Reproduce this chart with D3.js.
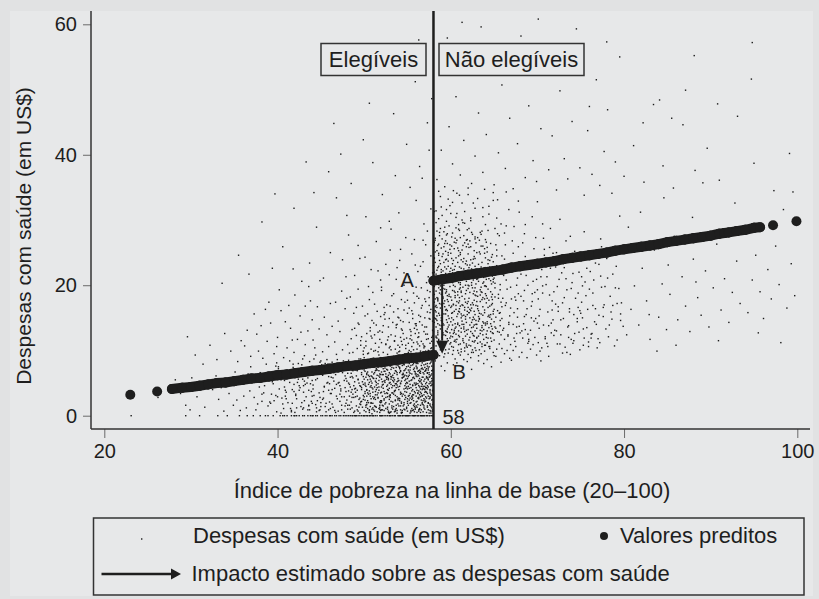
<!DOCTYPE html>
<html>
<head>
<meta charset="utf-8">
<script src="https://cdn.jsdelivr.net/npm/d3@7/dist/d3.min.js"></script>
<style>
  html, body { margin: 0; padding: 0; background: #e1e2e3; }
  svg { display: block; }
  text { font-family: "Liberation Sans", Arial, Helvetica, sans-serif; fill: #1e1e1e; }
</style>
</head>
<body>
<svg id="chart" width="819" height="599"></svg>
<script>
// ---- Axis ticks ----
const xTicks = [20, 40, 60, 80, 100];
const yTicks = [0, 20, 40, 60];
const cutoff = 58;

// ---- Predicted values (regression discontinuity fit) ----
const predEligibleX = [23.0, 26.1, 27.8, 29, 30, 31, 32, 33, 34, 35, 36, 37, 38, 39, 40, 41, 42, 43, 44, 45, 46, 47, 48, 49, 50, 51, 52, 53, 54, 55, 56, 57, 58];
const predEligibleY = [3.2, 3.7, 4.1, 4.3, 4.4, 4.6, 4.8, 5.0, 5.1, 5.3, 5.5, 5.7, 5.8, 6.0, 6.2, 6.3, 6.5, 6.7, 6.9, 7.0, 7.2, 7.4, 7.6, 7.7, 7.9, 8.1, 8.2, 8.4, 8.6, 8.8, 8.9, 9.1, 9.3];
const predIneligibleX = [58, 59, 60, 61, 62, 63, 64, 65, 66, 67, 68, 69, 70, 71, 72, 73, 74, 75, 76, 77, 78, 79, 80, 81, 82, 83, 84, 85, 86, 87, 88, 89, 90, 91, 91.6, 92.1, 93, 94, 95, 95.7, 97.2, 99.9];
const predIneligibleY = [20.7, 20.9, 21.1, 21.4, 21.6, 21.8, 22.0, 22.2, 22.4, 22.7, 22.9, 23.1, 23.3, 23.5, 23.7, 24.0, 24.2, 24.4, 24.6, 24.8, 25.0, 25.3, 25.5, 25.7, 25.9, 26.1, 26.3, 26.6, 26.8, 27.0, 27.2, 27.4, 27.6, 27.9, 28.0, 28.1, 28.3, 28.5, 28.8, 28.9, 29.2, 29.8];

// ---- Estimated impact (A -> B) ----
const impactX = 59;
const impactFrom = 20.6;
const impactTo = 9.5;

// ---- Observed health spending: households reporting zero spending ----
const zeroSpendX = [23.1, 29.4, 31.0, 33.1, 34.2, 35.6, 36.5, 37.2, 38.0, 38.6, 38.9, 39.5, 40.3, 40.6, 40.8, 41.1, 41.6, 41.9, 42.0, 42.2, 42.5, 42.9, 43.1, 43.5, 43.8, 44.0, 44.1, 44.4, 44.6, 45.0, 45.2, 45.5, 45.7, 46.0, 46.1, 46.3, 46.6, 46.8, 47.1, 47.3, 47.6, 47.8, 48.0, 48.2, 48.4, 48.6, 48.7, 48.9, 49.0, 49.1, 49.3, 49.5, 49.7, 49.9, 50.0, 50.1, 50.3, 50.4, 50.6, 50.7, 50.9, 51.0, 51.1, 51.3, 51.5, 51.8, 51.9, 52.0, 52.1, 52.3, 52.5, 52.7, 52.9, 53.0, 53.1, 53.3, 53.5, 53.6, 53.9, 54.0, 54.1, 54.2, 54.4, 54.5, 54.7, 54.8, 54.9, 55.0, 55.1, 55.2, 55.4, 55.6, 55.7, 55.8, 55.9, 56.1, 56.2, 56.3, 56.5, 56.6, 56.7, 56.8, 56.9, 57.0, 57.2, 57.3, 57.5, 57.6, 57.8, 57.9];

// ---- Observed health spending, eligible households (index < 58) ----
const eligibleSpending = [
[26.2,2.8],
[44.2,3.1],[44.7,6.4],[44.5,1.2],[44.9,8.2],[44.1,4.7],[44.6,2.3],[44.3,7.1],[44.8,0.8],[44.4,5.5],[44.0,1.9],
[45.3,2.7],[45.8,5.1],[45.1,7.8],[45.6,0.6],[45.9,3.9],[45.2,6.2],[45.5,1.4],[45.7,8.6],[45.4,4.4],[45.0,2.0],[45.8,6.9],
[46.1,1.1],[46.6,4.2],[46.3,7.4],[46.9,2.6],[46.4,5.8],[46.7,0.5],[46.2,3.4],[46.8,8.0],[46.5,6.6],[46.0,4.9],[46.3,1.8],[46.9,7.0],
[47.2,2.2],[47.7,5.4],[47.4,0.9],[47.9,3.7],[47.1,6.8],[47.6,8.4],[47.3,4.1],[47.8,1.5],[47.5,7.6],[47.0,5.0],[47.4,2.9],[47.8,6.1],[47.2,3.3],
[48.3,1.6],[48.8,4.6],[48.1,7.3],[48.6,2.8],[48.4,5.9],[48.9,0.7],[48.2,3.8],[48.7,8.3],[48.5,6.5],[48.0,2.4],[48.6,4.0],[48.3,7.9],[48.9,5.2],[48.1,1.0],
[49.2,3.0],[49.7,6.3],[49.4,1.3],[49.9,4.8],[49.1,8.1],[49.6,2.1],[49.3,5.6],[49.8,7.2],[49.5,0.4],[49.0,3.6],[49.7,4.3],[49.2,6.9],[49.6,1.7],[49.4,8.7],[49.9,2.5],
[50.3,2.0],[50.8,5.3],[50.1,7.7],[50.6,0.8],[50.4,3.5],[50.9,6.7],[50.2,4.5],[50.7,1.4],[50.5,8.5],[50.0,2.9],[50.6,6.0],[50.3,3.9],[50.9,0.3],[50.1,5.0],[50.7,7.4],[50.4,1.1],
[51.2,1.5],[51.7,4.4],[51.4,7.0],[51.9,2.3],[51.1,5.7],[51.6,8.2],[51.3,3.2],[51.8,6.4],[51.5,0.6],[51.0,4.1],[51.6,2.7],[51.2,7.5],[51.8,1.0],[51.4,5.1],[51.9,8.9],[51.3,3.7],[51.7,6.1],
[52.3,2.6],[52.8,5.5],[52.1,0.9],[52.6,7.1],[52.4,3.4],[52.9,1.8],[52.2,6.3],[52.7,4.0],[52.5,8.4],[52.0,2.1],[52.6,5.9],[52.3,7.8],[52.8,0.5],[52.1,4.7],[52.9,3.0],[52.4,6.8],[52.7,1.3],[52.2,8.0],
[53.2,1.2],[53.7,4.9],[53.4,7.3],[53.9,2.4],[53.1,5.6],[53.6,0.7],[53.3,3.5],[53.8,6.6],[53.5,8.6],[53.0,2.8],[53.7,1.6],[53.2,4.3],[53.9,7.7],[53.4,5.2],[53.6,3.1],[53.1,6.0],[53.8,0.4],[53.5,4.6],[53.3,8.1],
[54.2,3.3],[54.7,6.2],[54.4,0.8],[54.9,4.4],[54.1,7.4],[54.6,2.0],[54.3,5.3],[54.8,8.3],[54.5,1.5],[54.0,4.0],[54.7,3.7],[54.2,6.9],[54.9,1.1],[54.4,5.8],[54.6,7.9],[54.1,2.6],[54.8,4.9],[54.3,0.5],[54.5,6.5],[54.0,8.8],
[55.3,1.9],[55.8,5.0],[55.1,7.6],[55.6,3.2],[55.4,0.6],[55.9,6.4],[55.2,4.2],[55.7,8.0],[55.5,2.5],[55.0,5.7],[55.8,1.4],[55.3,7.0],[55.6,4.7],[55.1,3.0],[55.9,8.6],[55.4,5.4],[55.7,0.9],[55.2,6.7],[55.5,3.8],[55.0,2.2],[55.8,7.3],
[56.2,2.7],[56.7,5.9],[56.4,1.0],[56.9,4.1],[56.1,7.2],[56.6,3.4],[56.3,6.1],[56.8,8.4],[56.5,0.5],[56.0,4.8],[56.7,2.0],[56.2,6.8],[56.9,1.5],[56.4,5.2],[56.6,7.7],[56.1,3.9],[56.8,4.5],[56.3,0.9],[56.5,6.5],[56.0,8.0],[56.7,3.1],[56.2,1.7],
[57.3,1.3],[57.8,4.7],[57.1,7.0],[57.6,2.9],[57.4,5.6],[57.9,0.7],[57.2,3.6],[57.7,8.2],[57.5,6.3],[57.0,2.1],[57.8,5.3],[57.3,7.6],[57.6,1.8],[57.1,4.3],[57.9,6.9],[57.4,3.0],[57.7,0.4],[57.2,5.8],[57.5,8.7],[57.0,4.0],[57.8,2.4],[57.3,6.5],[57.6,3.8],
[53.8,2.9],[49.2,7.4],[56.5,4.1],[51.1,0.9],[57.3,6.6],[48.7,3.3],[55.0,8.2],[50.4,5.5],[54.6,1.7],[57.9,3.9],
[50.9,6.0],[56.1,2.2],[48.3,4.8],[53.3,7.9],[57.6,0.8],[52.0,3.6],[55.7,5.9],[49.8,1.3],[54.2,6.8],[51.6,8.6],
[57.0,4.5],[49.5,2.7],[55.3,3.4],[52.8,6.2],[48.9,8.0],[56.8,7.1],[50.2,0.6],[53.6,4.9],[51.9,2.0],[54.9,7.5],
[55.9,1.2],[48.1,6.5],[52.4,5.1],[57.5,2.6],[50.6,3.8],[53.0,0.5],[56.3,5.4],[49.0,4.2],[54.4,3.0],[51.4,7.2],
[57.8,8.4],[50.0,8.9],[55.5,6.4],[52.2,1.5],[48.5,2.1],[56.9,3.2],[53.9,5.7],[51.2,4.4],[54.0,8.1],[49.7,6.6],
[56.6,0.9],[52.6,7.7],[48.0,5.3],[55.2,2.4],[50.8,1.9],[57.2,5.1],[53.5,3.7],[49.3,0.7],[54.7,4.6],[51.7,6.9],
[55.6,7.8],[50.3,4.0],[57.7,1.4],[52.9,2.5],[48.6,7.0],[56.0,6.1],[53.2,8.7],[49.9,3.1],[54.3,0.4],[51.0,5.8],
[57.1,2.9],[50.7,7.5],[55.4,4.3],[52.1,6.3],[48.4,1.0],[56.4,8.3],[53.7,1.1],[49.4,5.0],[54.8,5.6],[51.5,3.2],
[56.2,3.5],[51.8,1.6],[57.4,7.3],[49.1,6.1],[54.1,2.3],[52.7,4.7],[55.8,0.6],[50.5,8.2],[53.1,6.0],[48.8,2.8],
[57.9,5.4],[53.4,3.3],[50.1,2.4],[55.1,7.0],[51.3,5.3],[56.7,1.8],[48.2,8.5],[54.5,6.3],[52.3,0.8],[49.6,4.5],
[56.9,6.4],[52.5,2.0],[54.6,8.8],[50.9,1.0],[57.6,4.0],[49.2,3.9],[55.6,2.7],[53.1,7.1],[51.6,4.9],[48.7,5.8],
[55.3,0.4],[57.1,7.9],[50.4,6.7],[53.8,5.2],[52.0,8.0],[56.0,3.0],[49.5,1.8],[54.2,3.6],[51.1,2.6],[57.4,1.9],
[48.9,4.1],[56.5,6.8],[53.3,2.1],[55.0,5.0],[50.7,3.4],[52.8,3.9],[57.8,6.9],[54.9,1.3],[51.9,7.6],[49.9,8.3],
[56.2,8.0],[53.6,0.9],[57.0,3.6],[50.2,5.9],[55.9,4.7],[52.4,7.3],[48.3,3.0],[54.0,5.4],[51.4,1.3],[56.8,2.3],
[49.7,2.2],[55.4,8.5],[57.5,4.9],[52.6,5.6],[50.0,7.0],[53.5,6.5],[56.3,0.7],[48.6,6.0],[54.4,7.7],[51.2,8.4],
[57.3,3.4],[50.8,4.6],[55.7,1.6],[53.0,3.1],[49.0,7.8],[56.6,5.5],[52.2,4.2],[54.7,2.5],[51.8,0.5],[57.9,7.0],
[48.1,1.6],[55.1,6.0],[53.9,4.4],[50.6,0.9],[56.1,7.4],[52.9,5.0],[57.2,0.5],[49.3,5.5],[54.1,6.6],[51.0,3.6],
[56.4,4.4],[53.2,5.9],[57.7,6.2],[50.1,3.7],[55.5,2.9],[52.3,6.8],[48.8,0.5],[54.8,8.6],[51.5,6.2],[56.9,1.2],
[49.8,5.2],[57.0,8.7],[53.7,7.4],[55.8,3.7],[50.5,2.0],[52.7,1.0],[56.7,4.8],[48.4,4.4],[54.3,1.9],[51.7,5.4],
[57.6,2.7],[50.3,6.3],[55.2,5.3],[53.4,8.3],[49.1,1.5],[56.5,2.9],[52.1,3.0],[54.6,4.1],[51.3,7.9],[57.3,5.8],
[55.0,1.9],[52.5,6.0],[49.6,8.7],[57.8,3.1],[50.9,4.3],[53.6,2.4],[56.2,6.3],[48.5,3.6],[54.9,6.1],[51.2,0.7],
[56.0,5.0],[53.0,7.6],[57.4,0.9],[50.2,1.3],[55.6,4.0],[52.8,8.5],[49.4,2.5],[54.2,4.9],[51.9,3.5],[57.1,6.9],
[48.7,6.9],[56.8,4.2],[53.3,4.6],[55.4,0.8],[50.6,5.1],[52.0,2.3],[57.9,1.7],[54.5,3.3],[49.9,6.0],[51.6,2.8],
[57.2,4.3],[54.0,1.5],[50.4,7.8],[55.9,6.7],[53.8,6.3],[52.4,1.8],[56.3,3.8],[48.2,5.0],[51.1,6.4],[49.5,4.6],
[56.6,7.2],[53.1,0.6],[57.5,5.9],[50.8,2.6],[55.3,7.4],[52.6,3.5],[54.7,7.0],[49.0,2.9],[51.4,4.7],[57.0,1.0],
[55.7,3.2],[50.0,0.8],[53.5,5.5],[56.1,0.5],[52.2,7.2],[57.7,4.6],[48.9,7.3],[54.4,5.8],[51.8,8.2],[56.4,6.6],
[53.9,1.8],[57.3,8.0],[50.7,5.6],[55.1,4.5],[52.9,0.4],[56.9,5.3],[49.2,0.9],[54.1,7.2],[51.0,1.9],[57.6,6.0],
[55.8,5.7],[52.3,5.3],[57.1,2.2],[50.3,3.0],[53.4,1.4],[56.7,8.1],[48.6,1.2],[54.8,2.8],[51.5,7.0],[56.0,1.5],
[57.8,7.6],[53.7,6.8],[55.5,1.1],[50.1,6.8],[52.7,5.9],[56.5,1.6],[49.7,4.0],[54.2,0.9],[51.3,2.5],[57.4,4.4],
[56.3,2.6],[54.6,6.9],[52.0,5.6],[57.9,0.9],[50.5,4.8],[55.2,8.0],[53.2,3.5],[49.3,8.0],[51.7,1.1],[56.8,5.9],
[54.9,3.6],[51.5,8.1],[56.2,4.9],[50.3,1.7],[57.6,5.2],[53.0,6.4],[55.4,2.0],[52.2,4.8],[57.1,8.5],[50.8,6.1],
[56.8,0.6],[53.6,3.9],[51.0,2.9],[55.7,7.1],[57.9,2.5],[52.7,7.0],[54.2,5.0],[50.5,3.3],[56.4,5.7],[53.3,1.0],
[57.3,4.1],[51.8,5.9],[55.0,0.7],[52.5,2.8],[56.0,7.6],[50.2,7.9],[54.6,6.0],[57.7,3.3],[53.9,8.2],[51.3,1.4],
[55.9,3.5],[52.0,6.7],[57.0,5.6],[50.7,4.4],[54.0,2.7],[56.5,8.6],[53.4,5.8],[51.7,3.9],[55.3,6.5],[57.5,0.4],
[52.9,4.2],[56.1,1.3],[50.0,5.6],[54.4,8.4],[57.8,6.4],[53.1,2.2],[51.2,6.6],[55.6,4.6],[56.9,7.8],[52.3,3.7],
[54.7,0.9],[57.2,7.2],[50.9,8.3],[53.7,4.3],[55.1,8.8],[51.9,0.8],[56.7,3.0],[52.6,8.7],[57.4,2.0],[54.1,4.5],
[50.4,2.3],[55.8,1.8],[53.2,7.4],[56.3,6.9],[51.4,4.0],[57.9,4.8],[52.1,1.6],[54.8,7.2],[56.6,2.4],[50.6,0.5],
[55.2,3.1],[53.5,0.6],[57.0,6.8],[51.6,7.4],[54.3,3.4],[56.0,4.3],[52.8,0.7],[57.6,8.0],[50.1,4.7],[55.5,5.5],
[53.8,4.7],[56.4,1.1],[51.1,8.8],[57.3,1.5],[54.5,5.9],[52.4,5.4],[55.9,8.3],[50.8,2.0],[56.8,6.6],[53.0,3.2],
[57.7,5.0],[51.8,2.1],[54.9,5.1],[56.2,8.8],[52.0,4.4],[55.0,2.6],[53.6,6.9],[57.1,3.7],[50.3,6.5],[56.5,3.6],
[51.4,5.7],[54.0,7.5],[57.5,7.5],[52.7,2.9],[55.6,0.8],[53.3,5.4],[56.9,2.6],[50.6,7.6],[54.6,1.0],[57.8,1.2],
[52.2,8.2],[55.3,4.8],[56.1,6.0],[51.0,1.2],[53.9,2.6],[57.2,6.0],[54.4,6.3],[50.9,5.0],[56.7,7.3],[52.5,1.1],
[55.8,6.8],[53.4,8.5],[57.0,2.4],[51.6,3.5],[54.2,1.5],[56.3,4.6],[52.9,6.6],[57.6,3.5],[50.4,8.6],[55.1,1.6],
[53.1,4.8],[56.6,5.0],[51.3,6.9],[57.4,5.5],[54.7,3.1],[52.3,2.4],[55.4,7.7],[56.0,2.1],[50.7,3.0],[53.7,7.8],
[57.9,8.6],[52.6,4.5],[54.8,4.2],[56.4,7.0],[51.9,6.3],[55.7,2.3],[53.2,1.5],[57.3,4.6],[50.2,1.6],[54.5,8.0],
[56.8,1.7],[52.1,5.2],[55.2,6.2],[57.7,0.7],[53.5,3.8],[51.2,2.8],[56.2,3.4],[54.1,8.6],[57.1,4.9],[52.8,5.7],
[55.5,3.0],[50.5,6.2],[56.5,5.3],[53.8,0.8],[57.5,6.6],[51.7,8.6],[54.3,2.1],[56.1,8.1],[52.4,7.6],[55.9,1.0],
[57.8,5.7],[53.0,5.1],[56.7,4.0],[51.5,4.3],[54.6,7.8],[57.2,2.7],[52.0,0.9],[55.6,5.8],[56.9,8.4],[53.6,2.3],
[50.1,3.4],[57.4,7.0],[54.9,6.6],[52.7,3.4],[56.3,2.8],[55.0,4.1],[53.3,6.2],[57.6,1.6],[51.1,7.5],[56.0,6.4],
[54.4,0.5],[57.0,7.4],[52.5,6.4],[55.3,2.7],[56.6,4.5],[53.9,5.3],[57.9,3.8],[51.8,1.3],[54.7,5.4],[56.4,3.2],
[45.3,3.7],[42.6,6.1],[47.4,1.6],[40.8,4.4],[46.1,7.6],[43.9,2.2],[47.9,5.7],[41.5,1.1],[44.7,6.9],[46.8,3.0],
[39.4,5.2],[45.9,0.9],[43.2,4.8],[47.2,8.1],[41.0,2.6],[44.3,7.4],[46.5,5.3],[42.1,3.3],[47.7,2.9],[45.0,8.4],
[40.3,6.8],[43.6,1.5],[46.3,4.0],[41.8,7.9],[44.9,2.8],[47.5,6.6],[42.9,5.6],[45.6,1.9],[39.8,3.1],[46.9,8.6],
[43.4,7.1],[47.0,0.7],[41.3,5.9],[44.1,4.1],[46.0,2.1],[42.4,8.0],[45.7,5.0],[40.6,1.8],[47.8,4.3],[43.0,3.6],
[44.5,0.6],[46.7,6.3],[41.7,4.0],[45.1,6.7],[42.8,2.0],[47.3,3.8],[40.1,7.5],[44.0,5.4],[46.4,1.3],[43.7,8.3],
[45.4,4.5],[41.2,6.4],[47.6,7.3],[42.2,1.2],[44.8,3.5],[46.2,5.9],[39.6,2.3],[43.3,6.2],[45.8,7.9],[41.9,3.7],
[47.1,5.1],[44.4,1.7],[42.5,4.6],[46.6,0.8],[40.4,5.5],[45.2,2.5],[43.8,4.9],[47.4,6.9],[41.4,8.4],[44.6,5.7],
[46.1,3.4],[42.0,6.7],[45.5,8.0],[43.5,0.9],[47.9,1.9],[40.9,3.9],[44.2,8.7],[46.8,4.8],[42.7,7.3],[45.0,1.4],
[38.5,4.6],[39.2,1.9],[38.9,6.3],[40.0,2.9],[39.9,8.1],[41.6,0.6],[43.1,5.3],[38.2,3.3],[46.5,7.0],[44.0,3.0],
[47.2,4.6],[45.9,6.0],[43.6,3.9],[41.1,7.0],[42.3,5.1],[44.9,0.9],[46.3,8.2],[47.7,0.5],[40.7,6.0],[42.9,1.0],
[35.3,2.4],[35.9,5.1],[36.4,1.2],[36.8,3.8],[37.1,6.0],[37.5,0.9],[37.9,4.4],[38.2,2.2],[38.6,5.7],[38.9,1.5],[39.3,3.3],[39.7,6.8],[39.9,0.6],[40.2,4.1],[40.5,2.7],[40.8,5.4],[40.1,7.2],[40.7,1.1],[41.0,3.6],[41.3,6.3],
[41.6,0.8],[41.9,4.8],[41.2,2.0],[41.8,7.4],[42.1,3.1],[42.4,5.6],[42.7,1.4],[42.9,6.9],[42.2,2.6],[42.6,4.3],[42.0,0.5],[42.8,7.8],[43.1,2.3],[43.4,5.0],[43.7,0.9],[43.9,3.7],[43.2,6.5],[43.6,1.6],[43.0,4.6],[43.8,7.1],
[43.3,2.9],[43.5,5.8],[36.1,3.0],[36.6,6.4],[37.3,2.8],[37.7,1.8],[38.4,3.5],[38.0,6.6],[39.1,2.1],[39.5,4.9],[40.4,0.4],[40.9,3.0],[41.4,5.1],[41.7,1.9],[42.5,3.9],[43.0,1.2],[35.7,0.8],[34.9,1.6],[34.4,3.4],[33.8,0.7],
[33.2,2.5],[32.5,4.0],[31.6,1.3],[30.7,2.9],[29.9,0.9],[34.1,5.2],[32.9,6.1],[31.2,4.6],[30.1,5.8],[28.8,3.4],[28.2,5.5],[29.4,1.6],[33.5,4.3],[35.1,6.7],[36.9,7.5],[38.7,7.9],[39.8,7.6],[40.6,6.2],
[45.2,9.8],[45.7,12.4],[45.4,15.1],[45.9,10.6],[46.3,13.7],[46.8,9.4],[46.1,17.2],[46.6,11.3],[47.0,14.5],[47.5,10.1],[47.2,12.9],[47.8,16.4],[47.4,19.1],[48.1,10.9],[48.6,13.2],[48.3,9.6],[48.8,15.7],[48.5,11.8],[48.0,18.0],
[49.2,10.3],[49.7,12.1],[49.4,14.0],[49.9,9.9],[49.1,16.6],[49.6,11.5],[49.3,19.4],[50.2,10.7],[50.7,13.5],[50.4,9.5],[50.9,11.9],[50.1,15.3],[50.6,17.8],[50.3,12.6],[50.8,10.2],[51.1,14.2],[51.6,9.8],[51.3,11.1],[51.8,13.0],
[51.5,16.0],[51.0,18.9],[51.7,10.5],[51.2,12.4],[52.2,9.7],[52.7,11.6],[52.4,14.8],[52.9,10.4],[52.1,12.8],[52.6,17.0],[52.3,15.5],[52.8,13.6],[52.0,19.7],[52.5,11.0],[53.1,10.1],[53.6,12.2],[53.3,14.3],[53.8,9.6],[53.0,16.8],
[53.5,11.4],[53.7,13.9],[53.2,18.4],[53.9,10.8],[53.4,15.9],[54.1,9.9],[54.6,11.7],[54.3,13.3],[54.8,10.3],[54.0,15.0],[54.5,12.6],[54.7,17.4],[54.2,14.6],[54.9,19.0],[54.4,10.9],[54.6,16.2],[55.2,10.0],[55.7,11.2],[55.4,12.9],
[55.9,14.1],[55.1,9.7],[55.6,15.6],[55.3,11.8],[55.8,13.4],[55.0,17.7],[55.5,10.6],[55.7,18.8],[55.2,16.5],[56.1,10.2],[56.6,11.4],[56.3,12.7],[56.8,9.8],[56.0,13.8],[56.5,15.2],[56.2,11.0],[56.7,16.9],[56.4,14.4],[56.9,10.7],
[56.1,18.3],[56.6,19.6],[56.3,12.1],[57.1,9.9],[57.6,11.1],[57.3,12.5],[57.8,10.4],[57.0,13.6],[57.5,14.9],[57.2,11.7],[57.7,16.3],[57.4,10.0],[57.9,13.1],[57.1,17.5],[57.6,15.8],[57.3,19.2],[57.8,12.0],[57.5,18.1],
[44.3,10.4],[44.8,13.3],[44.1,11.6],[44.6,16.7],[44.4,9.3],
[53.6,10.2],[56.9,12.9],[50.5,9.6],[55.2,14.3],[57.5,9.9],[51.8,11.7],[54.4,13.1],[49.6,10.8],[56.3,15.4],[52.7,9.4],
[57.8,11.4],[55.7,10.1],[53.1,12.4],[50.9,14.6],[56.6,9.3],[54.9,11.9],[52.2,13.8],[57.2,13.6],[49.1,12.3],[55.4,9.8],
[51.3,10.0],[56.1,11.3],[53.9,15.1],[57.6,14.8],[50.2,11.4],[54.1,10.5],[55.9,12.6],[52.5,10.9],[57.0,10.6],[48.7,9.7],
[56.7,13.9],[53.4,9.1],[55.0,15.7],[51.6,12.8],[57.9,12.2],[54.7,9.5],[50.7,13.0],[56.4,10.7],[52.9,14.9],[55.5,11.6],
[57.3,15.9],[49.9,9.4],[54.2,12.0],[56.0,14.1],[51.1,9.9],[53.7,13.5],[57.7,10.3],[55.3,13.2],[50.4,15.6],[52.0,11.2],
[56.8,11.0],[54.5,14.4],[57.1,12.5],[48.9,13.4],[53.0,10.6],[55.8,9.2],[51.9,15.2],[56.2,12.0],[54.0,9.8],[57.4,11.8],
[50.0,10.4],[52.8,12.1],[55.6,14.9],[57.6,9.5],[53.5,11.5],[49.3,14.2],[56.5,9.9],[54.8,10.8],[51.4,13.9],[57.9,14.5],
[55.1,11.1],[52.4,15.8],[56.9,10.4],[53.8,14.0],[50.8,12.2],[57.0,15.0],[54.3,11.4],[51.7,9.3],[56.1,13.2],[55.4,12.3],
[55.8,17.3],[57.2,20.4],[53.4,18.7],[56.5,22.9],[51.2,17.1],[54.6,20.0],[57.7,24.5],[52.9,21.6],[49.8,16.8],[56.0,19.7],
[53.9,16.4],[57.0,17.9],[50.5,19.8],[55.2,21.3],[48.4,18.2],[56.8,26.9],[52.3,16.6],[54.1,23.8],[57.5,16.9],[51.6,22.2],
[46.7,17.4],[55.5,16.1],[53.0,25.4],[57.9,21.9],[50.1,24.3],[56.3,18.0],[44.9,20.7],[54.8,27.3],[52.0,19.2],[57.3,28.3],
[47.9,21.3],[55.9,23.1],[43.2,16.8],[53.7,20.9],[56.6,16.5],[49.3,26.1],[41.8,22.5],[54.3,17.8],[57.6,19.0],[51.9,28.8],
[35.4,8.3],[36.2,10.7],[36.9,9.1],[37.6,12.5],[38.3,8.8],[38.8,11.4],[39.2,14.2],[39.6,9.5],[40.0,12.0],[40.4,16.1],[40.7,8.9],[41.1,10.4],[41.5,13.4],[41.9,9.7],[42.3,11.7],[42.6,15.3],[42.9,8.7],[43.2,10.9],[43.5,13.0],
[43.8,17.6],[43.1,9.2],[42.0,18.5],[41.3,16.9],[40.2,19.3],[39.0,17.4],[38.1,13.8],[37.3,15.6],[36.5,13.1],[35.8,11.5],[34.6,9.9],[33.9,12.6],[33.0,8.6],[32.2,10.8],[31.4,7.9],[30.5,9.3],[29.6,12.1],[44.0,14.7],[43.6,19.8],
[42.7,12.8],[41.7,11.6],[40.9,14.4],[39.9,10.6],[38.6,16.3],[37.8,9.9],
[57.4,21.3],[56.8,23.6],[57.1,26.2],[56.2,22.1],[55.5,24.8],[56.9,29.4],[57.7,31.7],[55.8,27.0],[54.6,21.9],[54.2,25.5],[53.8,22.7],[53.1,28.6],[52.5,23.2],[51.9,20.8],[51.4,26.7],[50.8,22.4],[50.2,30.5],[49.5,24.1],
[48.9,21.5],[48.2,27.7],[47.5,23.9],[46.8,33.4],[46.1,25.0],[45.3,21.1],[44.5,28.9],[43.7,23.4],[42.8,20.6],[41.9,31.8],[40.6,25.9],[39.4,22.6],[38.2,29.7],[36.7,21.7],[35.5,24.6],[33.6,20.3],[55.3,35.0],[56.4,38.2],
[54.9,41.6],[57.3,44.9],[53.6,36.8],[52.1,33.9],[51.0,38.8],[49.9,42.3],[48.5,35.6],[47.3,40.1],[45.9,37.4],[44.2,34.2],[57.8,48.6],[55.9,51.2],[56.7,36.4],[57.5,40.7],[53.4,46.3],[50.6,47.9],[54.0,31.1],[52.9,29.8],
[56.0,33.0],[57.0,56.5],[48.0,30.7],[43.3,38.9],[39.7,34.0],[46.5,44.8],[56.3,57.6]
];

// ---- Observed health spending, ineligible households (index >= 58) ----
const ineligibleSpending = [
[58.2,8.4],[58.5,12.7],[58.3,15.9],[58.8,10.1],[58.1,18.6],[58.6,22.9],[58.4,25.3],[58.9,13.8],[58.7,28.1],[58.2,16.7],[58.5,9.3],[58.8,19.9],[58.3,31.4],[58.6,11.5],[58.1,24.2],[58.9,7.6],[58.4,14.6],[58.7,21.0],[58.2,27.2],[58.5,17.8],[58.8,33.6],[58.3,12.0],
[59.2,9.0],[59.6,13.3],[59.4,16.2],[59.9,11.0],[59.1,19.5],[59.7,23.7],[59.3,26.4],[59.8,14.9],[59.5,29.8],[59.0,17.1],[59.6,8.1],[59.2,21.6],[59.9,32.2],[59.4,12.3],[59.7,25.0],[59.1,10.4],[59.8,18.3],[59.3,6.9],[59.5,22.5],[59.0,15.4],[59.6,27.9],[59.2,13.9],
[60.3,7.8],[60.7,11.7],[60.1,15.0],[60.9,9.6],[60.5,18.9],[60.2,22.3],[60.8,25.7],[60.4,13.1],[60.6,28.8],[60.0,16.6],[60.9,20.4],[60.3,10.5],[60.7,31.0],[60.1,24.1],[60.5,8.7],[60.8,14.2],[60.2,19.2],[60.6,12.5],[60.4,26.6],[60.0,21.4],[60.9,16.0],[60.3,34.5],
[61.2,9.8],[61.6,12.9],[61.4,16.9],[61.9,8.3],[61.1,20.1],[61.7,23.3],[61.3,14.0],[61.8,26.9],[61.5,11.2],[61.0,18.1],[61.6,29.5],[61.2,15.6],[61.9,21.9],[61.4,7.4],[61.7,17.4],[61.1,24.7],[61.8,10.7],[61.3,32.6],[61.5,13.6],[61.0,22.8],
[62.3,8.9],[62.7,12.2],[62.1,15.8],[62.9,10.0],[62.5,19.6],[62.2,23.1],[62.8,27.4],[62.4,13.5],[62.6,17.0],[62.0,9.4],[62.9,21.2],[62.3,30.3],[62.7,14.8],[62.1,25.8],[62.5,11.4],[62.8,18.5],[62.4,7.1],[62.6,24.0],[62.2,16.3],
[63.2,9.2],[63.6,13.0],[63.4,17.5],[63.9,10.8],[63.1,21.0],[63.7,14.4],[63.3,25.1],[63.8,8.0],[63.5,19.0],[63.0,12.0],[63.6,28.3],[63.2,15.2],[63.9,22.6],[63.4,11.3],[63.7,31.9],[63.1,16.4],[63.5,26.0],
[64.2,8.6],[64.6,11.9],[64.4,15.4],[64.9,9.7],[64.1,19.8],[64.7,13.7],[64.3,23.9],[64.8,17.2],[64.5,10.6],[64.0,27.0],[64.6,20.7],[64.2,14.1],[64.9,12.6],[64.4,30.9],[64.7,7.5],[64.1,18.4],
[65.2,9.1],[65.6,12.8],[65.4,16.1],[65.9,10.3],[65.1,20.3],[65.7,14.6],[65.3,24.5],[65.8,8.2],[65.5,18.0],[65.0,11.6],[65.6,27.6],[65.2,13.4],[65.9,22.0],[65.4,33.1],[65.7,15.8],
[66.2,9.5],[66.6,12.4],[66.4,17.3],[66.9,10.9],[66.1,21.5],[66.7,14.3],[66.3,26.2],[66.8,8.8],[66.5,19.4],[66.0,13.1],[66.6,23.0],[66.2,11.7],[66.9,16.5],[66.4,29.1],
[67.2,10.0],[67.6,13.6],[67.4,18.2],[67.9,9.0],[67.1,22.2],[67.7,15.1],[67.3,11.9],[67.8,25.9],[67.5,17.7],[67.0,8.5],[67.6,20.0],[67.2,14.0],[67.9,31.2],
[59.4,18.8],[61.7,12.2],[58.6,24.6],[63.3,15.7],[60.2,9.4],[64.8,21.4],[59.1,14.1],[62.5,27.8],[60.9,17.3],[65.6,11.0],
[58.3,10.7],[61.2,23.9],[63.9,9.9],[59.8,29.1],[62.0,16.6],[65.1,18.2],[60.5,13.4],[58.9,20.3],[64.2,25.1],[61.5,8.6],
[63.0,20.9],[59.6,11.8],[65.9,14.9],[60.1,26.0],[62.8,13.0],[58.2,16.1],[64.5,10.3],[61.0,19.4],[59.3,22.8],[63.6,17.8],
[60.7,8.1],[65.3,23.0],[58.8,13.3],[62.2,21.7],[61.9,10.5],[59.0,27.1],[64.0,14.2],[60.4,16.0],[63.4,12.6],[58.5,18.0],
[62.7,24.4],[65.0,9.2],[59.7,15.3],[61.3,14.5],[63.8,22.1],[60.0,11.2],[58.1,22.0],[64.7,17.0],[62.4,9.7],[59.9,19.8],
[61.6,26.5],[65.7,20.1],[58.7,9.2],[63.1,11.1],[60.6,21.2],[62.9,18.4],[59.2,12.4],[64.3,28.4],[61.1,16.8],[58.4,28.3],
[60.3,14.7],[63.7,26.0],[65.4,12.9],[59.5,24.0],[62.1,11.6],[61.8,20.6],[58.0,12.9],[64.9,15.6],[60.8,23.5],[63.2,8.4],
[59.0,16.9],[62.6,15.1],[61.4,29.6],[65.8,17.4],[58.6,19.6],[60.2,12.1],[63.5,19.7],[59.7,9.6],[64.1,12.0],[62.3,25.9],
[61.0,13.8],[58.9,25.7],[65.2,26.2],[60.5,18.1],[63.0,14.0],[59.4,10.1],[62.0,20.0],[64.6,19.0],[61.6,17.9],[58.3,14.8],
[60.9,10.9],[63.9,16.2],[59.1,21.1],[62.8,10.4],[65.5,21.8],[61.2,22.6],[58.7,17.2],[60.0,24.9],[64.4,13.5],[62.5,17.3],
[59.8,13.9],[63.4,24.8],[58.2,26.9],[61.9,15.5],[60.6,30.4],[65.0,16.3],[59.3,17.6],[62.2,13.9],[64.0,22.7],[61.4,11.5],
[58.8,11.4],[60.3,20.0],[63.6,10.6],[59.6,26.4],[62.7,19.1],[65.9,24.5],[61.1,9.3],[58.5,22.7],[64.7,11.4],[60.1,17.7],
[63.1,27.3],[59.9,12.7],[62.4,22.5],[61.7,18.7],[58.1,15.0],[64.2,18.0],[60.7,15.2],[65.3,10.2],[59.2,23.5],[62.9,14.6],
[61.3,25.4],[58.4,11.9],[63.8,13.2],[60.4,22.4],[64.5,23.8],[59.5,16.3],[62.1,28.7],[61.8,13.1],[65.6,15.7],[58.6,30.2],
[60.8,19.0],[63.3,21.6],[59.0,10.8],[62.6,12.3],[64.9,20.5],[61.5,21.0],[58.3,19.1],[60.2,28.0],[63.7,15.4],[59.7,20.7],
[65.1,13.6],[62.0,24.8],[61.0,15.9],[58.9,14.6],[64.1,26.6],[60.5,11.6],[63.0,17.5],[59.4,25.2],[62.3,16.1],[61.6,9.9],
[58.0,20.8],[65.7,19.3],[60.9,25.3],[63.5,9.5],[59.1,18.2],[62.8,22.9],[64.3,16.6],[61.2,12.8],[58.7,27.6],[60.1,13.2],
[63.9,19.9],[59.8,16.9],[62.5,10.1],[65.4,27.9],[61.4,19.7],[58.5,12.4],[60.6,16.9],[64.6,14.1],[59.3,28.9],[62.2,18.9],
[61.9,23.1],[58.2,17.9],[63.2,23.2],[60.3,10.0],[65.0,21.1],[59.6,14.3],[62.7,16.0],[61.1,27.3],[58.8,23.3],[64.0,10.8],
[60.0,20.6],[63.6,13.8],[59.0,12.0],[62.9,26.5],[65.8,12.4],[61.7,14.8],[58.6,15.7],[60.7,26.9],[64.8,17.8],[59.5,19.3],
[62.4,14.3],[61.3,17.0],[58.1,24.1],[63.4,18.5],[60.4,12.8],[65.2,15.1],[59.9,22.1],[62.1,19.9],[64.4,21.0],[61.0,21.8],
[58.4,20.5],[60.8,14.0],[63.1,16.8],[59.2,15.6],[62.6,20.8],[65.5,18.6],[61.5,13.3],[58.9,18.6],[60.2,23.3],[64.2,13.0],
[59.4,13.0],[63.8,11.7],[62.0,17.5],[61.8,25.9],[58.3,13.6],[60.5,19.8],[64.7,24.3],[59.7,17.5],[62.8,15.5],[61.2,15.0],
[58.7,21.4],[63.5,22.8],[60.9,12.3],[65.1,19.6],[59.1,24.8],[62.3,12.9],[61.4,23.6],[58.0,18.5],[64.0,18.7],[60.1,15.7],
[63.0,13.4],[59.8,21.5],[62.5,23.4],[65.9,16.7],[61.6,16.2],[58.5,14.1],[60.6,24.2],[64.5,15.1],[59.3,11.0],[62.9,20.2],
[61.1,20.4],[58.2,23.5],[63.7,20.3],[60.3,17.1],[65.3,25.4],[59.5,12.9],[62.2,26.8],[61.9,17.2],[58.8,16.5],[64.1,20.9],
[60.7,22.0],[63.3,14.8],[59.0,19.9],[62.7,11.3],[65.6,22.6],[61.3,18.3],[58.6,26.3],[60.0,14.4],[64.8,12.7],[59.6,18.4],
[62.1,15.8],[61.7,22.2],[58.1,17.4],[63.9,25.6],[60.4,21.7],[65.0,14.4],[59.2,20.0],[62.4,20.4],[61.0,12.1],[58.9,22.0],
[60.8,18.5],[63.6,18.9],[59.9,25.5],[62.6,13.6],[64.3,19.4],[61.5,15.4],[58.4,16.6],[60.2,21.9],[63.2,12.2],[59.4,23.9],
[62.0,22.1],[65.7,13.8],[61.8,11.0],[58.3,21.7],[60.6,13.6],[64.6,22.0],[59.7,11.5],[62.8,24.1],[61.2,19.1],[58.7,15.4],
[58.7,13.9],[60.4,25.6],[62.1,10.8],[59.3,19.4],[63.8,21.2],[61.0,16.4],[58.2,21.3],[64.6,12.9],[60.9,29.3],[62.7,17.7],
[59.8,10.2],[61.5,22.5],[63.3,14.9],[58.5,26.1],[64.1,17.3],[60.2,15.8],[62.4,28.1],[59.1,12.7],[61.8,19.2],[63.6,11.0],
[58.9,17.1],[64.9,23.6],[60.6,11.3],[62.9,21.8],[59.5,27.7],[61.2,13.4],[63.0,25.0],[58.3,9.9],[64.3,15.2],[60.0,18.2],
[62.2,15.0],[59.7,22.9],[61.6,10.4],[63.9,17.9],[58.1,19.8],[64.7,20.2],[60.8,21.0],[62.6,9.7],[59.4,15.6],[61.9,27.0],
[63.4,19.3],[58.6,11.7],[64.0,24.2],[60.3,23.8],[62.0,13.2],[59.0,24.4],[61.3,20.8],[63.7,12.4],[58.8,28.7],[64.4,10.6],
[60.5,14.1],[62.8,19.6],[59.6,17.8],[61.1,25.0],[63.2,16.1],[58.4,15.3],[64.8,18.6],[60.1,10.6],[62.3,23.9],[59.2,20.3],
[61.7,15.2],[63.5,27.8],[58.0,23.0],[64.2,14.4],[60.7,17.5],[62.5,12.6],[59.9,26.2],[61.4,11.8],[63.1,22.2],[58.7,18.8],
[64.6,26.4],[60.2,20.4],[62.1,18.0],[59.3,9.5],[61.8,23.7],[63.8,14.2],[58.3,16.9],[64.1,21.4],[60.9,13.0],[62.7,25.3],
[59.5,14.7],[61.0,28.4],[63.3,10.1],[58.9,22.4],[64.9,16.0],[60.4,19.1],[62.4,16.5],[59.1,18.0],[61.5,14.0],[63.6,23.5],
[58.5,13.0],[64.3,11.9],[60.6,26.5],[62.9,14.0],[59.8,20.9],[61.2,18.9],[63.0,19.0],[58.2,25.1],[64.7,14.8],[60.0,12.2],
[62.2,21.1],[59.4,21.8],[61.6,16.6],[63.9,24.9],[58.6,20.1],[64.0,19.9],[60.8,15.6],[62.6,22.0],[59.0,14.4],[61.9,12.5],
[63.4,13.1],[58.8,10.5],[64.5,22.8],[60.3,17.0],[62.0,26.3],[59.7,13.6],[61.3,21.8],[63.7,16.7],[58.1,14.3],[64.2,25.8],
[60.5,22.9],[62.8,11.5],[59.6,16.1],[61.1,11.0],[63.2,20.6],[58.4,18.1],[64.8,13.3],[60.1,27.4],[62.3,17.0],[59.2,25.9],
[61.7,20.0],[63.5,15.6],[58.0,16.2],[64.4,17.7],[60.7,20.7],[62.5,14.7],[59.9,11.9],[61.4,26.1],[63.1,18.3],[58.7,23.8],
[64.6,15.5],[60.2,13.9],[62.1,22.7],[59.3,16.7],[61.8,14.3],[63.8,20.5],[58.3,12.2],[64.1,12.5],[60.9,24.5],[62.7,13.9],
[59.5,19.0],[61.0,17.6],[63.3,26.9],[58.9,15.0],[64.9,20.9],[60.4,11.4],[62.4,20.0],[59.1,22.2],[61.5,24.1],[63.6,13.5],
[58.5,17.6],[64.3,23.3],[60.6,16.3],[62.9,16.9],[59.8,18.6],[61.2,10.2],[63.0,11.9],[58.2,14.9],[64.7,18.2],[60.0,22.6],
[62.2,12.0],[59.4,26.8],[61.6,21.4],[63.9,15.8],[58.6,24.9],[64.0,13.9],[60.8,10.0],[62.6,18.7],[59.0,20.6],[61.9,16.0],
[63.4,22.5],[58.8,19.3],[64.5,16.8],[60.3,12.6],[62.0,19.5],[59.7,24.6],[61.3,15.3],[63.7,18.1],[58.1,26.6],[64.2,11.2],
[60.5,18.4],[62.8,27.1],[59.6,12.8],[61.1,19.6],[63.2,14.5],[58.4,22.3],[64.8,24.7],[60.1,16.8],[62.3,10.7],[59.2,17.2],
[59.5,31.6],[61.0,33.8],[62.3,29.9],[58.6,34.4],[60.9,28.6],[63.7,30.5],[64.9,33.0],[60.2,32.7],[66.2,28.0],[59.0,30.7],
[61.6,31.3],[63.1,33.3],[65.3,30.3],[58.3,29.6],[62.8,31.8],[67.3,29.0],[60.5,27.2],[64.4,32.1],[68.5,27.9],[61.9,28.5],
[59.7,33.2],[63.4,28.1],[66.7,31.6],[62.0,34.9],[58.9,32.0],[65.8,29.4],[60.7,34.1],[64.0,29.3],[69.4,30.5],[61.3,30.0],
[62.6,32.6],[67.8,32.9],[59.2,28.2],[63.9,34.7],[65.1,28.7],[60.0,31.0],[66.4,34.3],[58.1,31.3],[70.6,29.4],[61.5,27.6],
[68.2,9.7],[68.6,13.2],[68.4,17.6],[68.9,11.1],[68.1,21.7],[68.7,15.5],[68.3,26.5],[68.8,8.9],[68.5,19.2],[68.0,12.7],[68.6,29.3],
[69.2,10.2],[69.6,14.5],[69.4,18.7],[69.9,9.3],[69.1,23.4],[69.7,12.0],[69.3,16.8],[69.8,27.3],[69.5,20.6],[69.0,11.4],
[70.3,9.9],[70.7,13.9],[70.1,17.9],[70.9,11.8],[70.5,22.4],[70.2,15.3],[70.8,25.5],[70.4,8.4],[70.6,19.9],[70.0,32.8],
[71.2,10.6],[71.6,14.2],[71.4,18.5],[71.9,12.3],[71.1,21.3],[71.7,16.2],[71.3,9.1],[71.8,24.9],[71.5,28.7],
[72.3,11.0],[72.7,14.7],[72.1,17.1],[72.9,9.6],[72.5,20.9],[72.2,13.0],[72.8,23.6],[72.4,16.0],[72.6,30.1],
[73.2,10.5],[73.6,13.8],[73.4,19.3],[73.9,11.7],[73.1,22.7],[73.7,15.9],[73.3,26.8],[73.8,9.4],
[74.2,11.5],[74.6,14.9],[74.4,18.0],[74.9,10.1],[74.1,21.8],[74.7,16.6],[74.3,25.2],[74.8,12.8],
[75.3,10.8],[75.7,13.5],[75.1,17.4],[75.9,11.3],[75.5,20.5],[75.2,15.0],[75.8,24.3],[75.4,28.2],
[76.2,11.9],[76.6,14.4],[76.4,18.8],[76.9,10.4],[76.1,22.1],[76.7,16.4],[76.3,12.6],
[77.2,11.2],[77.6,15.2],[77.4,19.7],[77.9,13.3],[77.1,23.2],[77.7,17.0],[77.3,27.1],
[78.2,12.1],[78.6,14.8],[78.4,18.3],[78.9,10.7],[78.1,21.1],[78.7,16.9],[78.3,25.6],
[79.2,11.6],[79.6,15.6],[79.4,19.5],[79.9,13.7],[79.1,22.9],[79.7,17.3],[79.5,30.6],
[68.4,14.1],[71.9,19.0],[66.8,22.8],[74.3,12.6],[69.6,25.6],[77.1,15.4],[67.5,10.6],[72.8,21.9],[70.2,13.4],[75.6,18.4],
[66.3,16.9],[73.4,9.7],[68.9,20.0],[76.7,23.4],[71.1,11.1],[67.1,26.8],[74.9,16.1],[69.3,15.0],[78.3,13.9],[70.8,24.6],
[66.6,12.2],[72.4,16.7],[68.1,18.3],[75.1,21.3],[70.5,10.4],[77.8,19.8],[67.9,13.7],[73.8,27.5],[69.0,11.7],[76.2,12.5],
[71.5,22.6],[66.9,19.7],[74.6,14.4],[68.6,24.4],[72.0,13.1],[79.2,17.2],[70.0,19.3],[67.3,15.8],[75.9,10.6],[73.1,18.1],
[69.8,14.9],[77.4,25.9],[66.5,10.0],[71.2,15.9],[74.0,20.4],[68.3,11.9],[76.4,16.9],[70.7,27.2],[67.7,21.1],[73.6,12.0],
[78.7,21.7],[69.4,17.5],[72.6,11.0],[66.2,24.0],[75.3,13.3],[71.7,17.6],[68.8,16.4],[74.4,24.7],[70.3,16.3],[77.0,11.8],
[67.0,17.9],[73.0,14.9],[69.1,22.6],[76.0,19.4],[71.3,13.8],[68.0,22.9],[75.0,15.7],[66.7,14.0],[72.2,25.0],[79.6,14.6],
[70.9,12.1],[74.7,18.8],[67.6,12.6],[73.3,21.0],[69.9,20.9],[77.6,16.6],[66.4,20.8],[71.0,20.1],[75.7,22.6],[68.2,13.0],
[72.9,17.3],[70.1,11.2],[76.8,14.0],[67.8,18.7],[74.1,11.1],[69.2,13.1],[78.0,24.1],[71.6,12.7],[66.1,13.4],[73.7,16.4],
[68.7,21.5],[75.4,11.9],[70.6,18.8],[72.3,19.8],[67.2,24.9],[76.5,20.8],[69.5,10.9],[74.8,22.0],[71.4,25.8],[66.0,18.0],
[78.5,15.9],[73.5,13.6],[68.5,15.2],[70.4,21.3],[75.8,16.3],[67.4,11.4],[72.7,12.4],[69.7,18.9],[77.3,21.4],[71.8,14.7],
[74.2,15.5],[66.8,15.3],[73.9,19.5],[70.0,14.2],[76.1,25.0],[68.9,12.5],[72.1,22.8],[79.0,19.6],[67.7,16.4],[75.2,19.9],
[80.3,12.4],[80.8,16.3],[81.2,19.9],[81.7,13.9],[82.1,22.6],[82.6,17.6],[83.0,11.7],[83.5,25.4],[84.0,15.1],[84.4,20.2],[84.9,13.2],[85.3,18.6],[85.8,27.5],[86.2,14.7],[86.7,21.3],
[87.1,16.8],[87.6,12.9],[88.0,24.0],[88.5,18.1],[88.9,15.4],[89.4,22.2],[89.8,13.6],[90.3,19.6],[90.7,26.3],[91.2,16.2],[91.6,21.0],[92.1,14.3],[92.5,18.9],[93.0,23.7],[93.4,17.2],
[93.9,28.8],[94.3,15.8],[94.8,20.8],[95.2,24.6],[95.7,19.0],[96.1,14.9],[96.6,22.4],[97.0,17.9],[97.5,26.0],[97.9,20.1],[98.4,31.6],[98.8,16.5],[99.3,23.3],[99.7,18.4],[80.5,28.9],
[81.9,31.2],[83.8,9.9],[84.6,33.4],[86.0,10.8],[87.9,30.4],[89.1,35.7],[90.9,11.5],[92.8,32.6],[95.5,12.7],[96.9,29.5],[98.1,11.2],[99.5,34.3],[82.9,15.5],[85.1,23.1],[88.3,20.5],
[58.4,36.2],[58.9,40.7],[59.3,35.1],[59.8,44.3],[60.2,38.6],[60.6,48.9],[61.1,36.9],[61.5,42.2],[61.9,53.6],[62.4,35.6],[62.8,39.8],[63.2,46.4],[63.7,37.3],[64.1,43.1],[64.6,56.8],
[65.0,35.4],[65.5,40.3],[65.9,50.7],[66.3,37.9],[66.8,45.6],[67.2,34.8],[67.7,41.7],[68.1,58.2],[68.6,36.5],[69.0,47.5],[69.5,39.1],[69.9,35.9],[70.4,44.0],[70.8,52.4],[71.3,37.7],
[71.7,42.9],[72.2,34.6],[72.6,49.8],[73.1,39.4],[73.5,36.3],[74.0,45.1],[74.5,59.3],[74.9,38.0],[75.4,33.8],[75.8,43.7],[76.3,37.0],[76.8,51.5],[77.2,35.3],[77.7,40.5],[78.1,46.9],
[78.6,34.1],[79.0,38.9],[79.5,55.0],[80.0,36.7],[81.1,41.4],[82.3,35.8],[83.4,47.7],[84.5,38.3],[85.7,34.9],[86.8,44.6],[88.2,37.6],[89.6,41.0],[91.0,36.1],[93.1,45.9],[95.0,38.7],
[97.3,34.5],[99.1,40.2],[62.0,33.9],[64.9,34.2],[59.6,57.9],[61.3,60.3],[66.1,53.9],[63.5,59.6],[70.1,60.8],[73.8,53.3],[76.0,47.4],
[78.0,57.3],[88.1,55.2],[94.8,57.2],[94.7,51.6],[87.1,49.9],[84.1,48.4],[85.5,45.6],[90.8,47.8],[82.2,44.9]
];

// ---- Text ----
const yTitle = "Despesas com saúde (em US$)";
const xTitle = "Índice de pobreza na linha de base (20–100)";
const regionLabels = ["Elegíveis", "Não elegíveis"];
const legendItems = ["Despesas com saúde (em US$)", "Valores preditos", "Impacto estimado sobre as despesas com saúde"];

// ---------------------------------------------------------------
const svg = d3.select("#chart");
const W = 819, H = 599;
const ink = "#1e1e1e";
const panel = "#e7e8e9";

svg.append("rect").attr("width", W).attr("height", H).attr("fill", "#e1e2e3");
svg.append("rect").attr("x", 10).attr("y", 11).attr("width", 803).attr("height", 585).attr("fill", panel);

const x = d3.scaleLinear().domain([20, 100]).range([104.3, 797.3]);
const y = d3.scaleLinear().domain([0, 60]).range([415.7, 24.3]);

const axisX0 = 91, axisY0 = 429;
const plotTop = 11, plotRight = 810;

// Observed spending dots
const allObs = zeroSpendX.map(v => [v, 0]).concat(eligibleSpending, ineligibleSpending);
svg.append("g").selectAll("rect").data(allObs).join("rect")
  .attr("x", d => x(d[0]) - 0.7)
  .attr("y", d => y(d[1]) - 0.7)
  .attr("width", 1.4).attr("height", 1.4)
  .attr("fill", "#1a1a1a");

// Predicted values: thick runs where fitted points are contiguous, dots otherwise
function drawPred(xs, ys) {
  const pts = xs.map((v, i) => [v, ys[i]]);
  const g = svg.append("g");
  for (let i = 1; i < pts.length; i++) {
    if (pts[i][0] - pts[i - 1][0] <= 1.2) {
      g.append("line")
        .attr("x1", x(pts[i - 1][0])).attr("y1", y(pts[i - 1][1]))
        .attr("x2", x(pts[i][0])).attr("y2", y(pts[i][1]))
        .attr("stroke", ink).attr("stroke-width", 10).attr("stroke-linecap", "round");
    }
  }
  g.selectAll("circle").data(pts).join("circle")
    .attr("cx", d => x(d[0])).attr("cy", d => y(d[1])).attr("r", 5).attr("fill", ink);
}
drawPred(predEligibleX, predEligibleY);
drawPred(predIneligibleX, predIneligibleY);

// Axes
const gy = svg.append("g").attr("transform", `translate(${axisX0},0)`)
  .call(d3.axisLeft(y).tickValues(yTicks).tickSize(8).tickPadding(6).tickSizeOuter(0));
const gx = svg.append("g").attr("transform", `translate(0,${axisY0})`)
  .call(d3.axisBottom(x).tickValues(xTicks).tickSize(9).tickPadding(6).tickSizeOuter(0));
[gx, gy].forEach(g => {
  g.select(".domain").remove();
  g.selectAll(".tick line").attr("stroke", "#6a6a6a").attr("stroke-width", 1);
  g.selectAll(".tick text").attr("font-size", 20).attr("fill", ink)
    .attr("font-family", "'Liberation Sans', Arial, sans-serif");
});
svg.append("line").attr("x1", axisX0).attr("x2", axisX0).attr("y1", plotTop).attr("y2", axisY0)
  .attr("stroke", "#333").attr("stroke-width", 1.5);
svg.append("line").attr("x1", axisX0).attr("x2", plotRight).attr("y1", axisY0).attr("y2", axisY0)
  .attr("stroke", "#333").attr("stroke-width", 1.5);

// Eligibility cutoff
svg.append("line").attr("x1", x(cutoff)).attr("x2", x(cutoff)).attr("y1", plotTop).attr("y2", axisY0)
  .attr("stroke", ink).attr("stroke-width", 2.5);
svg.append("text").attr("x", x(cutoff) + 9).attr("y", 424).attr("font-size", 20).text(String(cutoff));

// Arrow with a filled triangular head pointing from (x1,y1) to (x2,y2)
function arrow(g, x1, y1, x2, y2, headLen, headHalf, width) {
  const ang = Math.atan2(y2 - y1, x2 - x1);
  const bx = x2 - headLen * Math.cos(ang), by = y2 - headLen * Math.sin(ang);
  g.append("line").attr("x1", x1).attr("y1", y1).attr("x2", bx).attr("y2", by)
    .attr("stroke", ink).attr("stroke-width", width);
  const px = -Math.sin(ang) * headHalf, py = Math.cos(ang) * headHalf;
  g.append("path")
    .attr("d", `M${x2},${y2} L${bx + px},${by + py} L${bx - px},${by - py} Z`)
    .attr("fill", ink);
}

// Impact arrow A -> B
arrow(svg, x(impactX), y(impactFrom), x(impactX), y(impactTo), 13, 6, 2);
svg.append("text").attr("x", 400.5).attr("y", 287).attr("font-size", 20).text("A");
svg.append("text").attr("x", 452.5).attr("y", 379).attr("font-size", 20).text("B");

// Region labels in boxes
const boxes = [
  { label: regionLabels[0], x0: 321, x1: 426 },
  { label: regionLabels[1], x0: 439, x1: 584 }
];
boxes.forEach(b => {
  svg.append("rect").attr("x", b.x0).attr("y", 43.5).attr("width", b.x1 - b.x0).attr("height", 32)
    .attr("fill", panel).attr("stroke", "#333").attr("stroke-width", 1.5);
  svg.append("text").attr("x", (b.x0 + b.x1) / 2).attr("y", 66.5).attr("text-anchor", "middle")
    .attr("font-size", 22).text(b.label);
});

// Axis titles
svg.append("text").attr("x", 452).attr("y", 498).attr("text-anchor", "middle")
  .attr("font-size", 22).text(xTitle);
svg.append("text").attr("transform", "translate(31,236) rotate(-90)").attr("text-anchor", "middle")
  .attr("font-size", 21).text(yTitle);

// Legend
const lg = svg.append("g");
lg.append("rect").attr("x", 93.5).attr("y", 518).attr("width", 710.5).attr("height", 77)
  .attr("fill", panel).attr("stroke", "#333").attr("stroke-width", 1.5);
lg.append("rect").attr("x", 141).attr("y", 538.3).attr("width", 1.4).attr("height", 1.4).attr("fill", "#1a1a1a");
lg.append("text").attr("x", 193).attr("y", 543).attr("font-size", 22).text(legendItems[0]);
lg.append("circle").attr("cx", 604).attr("cy", 536).attr("r", 4).attr("fill", ink);
lg.append("text").attr("x", 620).attr("y", 543).attr("font-size", 22).text(legendItems[1]);
arrow(lg, 101.5, 574, 181, 574, 10, 5.5, 2.5);
lg.append("text").attr("x", 191.5).attr("y", 581).attr("font-size", 22).text(legendItems[2]);
</script>
</body>
</html>
